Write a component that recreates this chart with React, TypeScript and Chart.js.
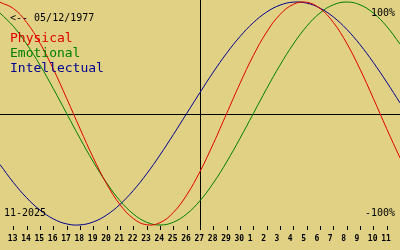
import React, { useEffect, useRef } from "react";
import { Chart, registerables } from "chart.js";

Chart.register(...registerables);

// Day index 0 = 12 Nov 2025 ... 30 = 12 Dec 2025; today = index 15 (27 Nov)
const dayIndex = [
  0, 1, 2, 3, 4, 5, 6, 7, 8, 9, 10, 11, 12, 13, 14, 15, 16, 17, 18, 19, 20, 21, 22, 23, 24, 25, 26, 27, 28, 29, 30,
];
const physical = [
  0.998, 0.942, 0.817, 0.631, 0.398, 0.136, -0.136, -0.398, -0.631, -0.817, -0.942, -0.998, -0.979, -0.888, -0.731,
  -0.52, -0.27, 0, 0.27, 0.52, 0.731, 0.888, 0.979, 0.998, 0.942, 0.817, 0.631, 0.398, 0.136, -0.136, -0.398,
];
const emotional = [
  0.901, 0.782, 0.623, 0.434, 0.223, 0, -0.223, -0.434, -0.623, -0.782, -0.901, -0.975, -1, -0.975, -0.901, -0.782,
  -0.623, -0.434, -0.223, 0, 0.223, 0.434, 0.623, 0.782, 0.901, 0.975, 1, 0.975, 0.901, 0.782, 0.623,
];
const intellectual = [
  -0.458, -0.618, -0.756, -0.866, -0.945, -0.99, -0.999, -0.972, -0.91, -0.815, -0.69, -0.541, -0.372, -0.189, 0,
  0.189, 0.372, 0.541, 0.69, 0.815, 0.91, 0.972, 0.999, 0.99, 0.945, 0.866, 0.756, 0.618, 0.458, 0.282, 0.095,
];
const tickIndex = [1, 2, 3, 4, 5, 6, 7, 8, 9, 10, 11, 12, 13, 14, 15, 16, 17, 18, 19, 20, 21, 22, 23, 24, 25, 26, 27, 28, 29];
const tickLabels = [
  "13", "14", "15", "16", "17", "18", "19", "20", "21", "22", "23", "24", "25", "26", "27", "28", "29", "30",
  "1", "2", "3", "4", "5", "6", "7", "8", "9", "10", "11",
];
const todayIndex = 15;
const seriesNames = ["Physical", "Emotional", "Intellectual"];
const seriesColors = ["#e00000", "#008000", "#000090"];
const birthText = "<-- 05/12/1977";
const monthText = "11-2025";
const topText = "100%";
const bottomText = "-100%";

const BG = "#e0d184";
const MONO = "'DejaVu Sans Mono', 'Liberation Mono', monospace";

const bioPlugin = {
  id: "bio",
  beforeDraw(chart: any) {
    const { ctx, width, height } = chart;
    ctx.save();
    ctx.fillStyle = BG;
    ctx.fillRect(0, 0, width, height);
    ctx.restore();
  },
  beforeDatasetsDraw(chart: any) {
    const { ctx, scales } = chart;
    const x = scales.x;
    const y = scales.y;
    ctx.save();
    ctx.strokeStyle = "#000000";
    ctx.lineWidth = 1;
    // zero line
    const y0 = Math.round(y.getPixelForValue(0)) + 0.5;
    ctx.beginPath();
    ctx.moveTo(0, y0);
    ctx.lineTo(chart.width, y0);
    ctx.stroke();
    // today line
    const xt = Math.round(x.getPixelForValue(todayIndex)) + 0.5;
    const yb = y.getPixelForValue(-1) + 3;
    ctx.beginPath();
    ctx.moveTo(xt, 0);
    ctx.lineTo(xt, yb);
    ctx.stroke();
    ctx.restore();
  },
  afterDatasetsDraw(chart: any) {
    const { ctx, scales } = chart;
    const x = scales.x;
    const y = scales.y;
    ctx.save();
    // ticks
    ctx.strokeStyle = "#000000";
    ctx.lineWidth = 1;
    const yTick = y.getPixelForValue(-1) + 1;
    tickIndex.forEach((t, i) => {
      const px = Math.round(x.getPixelForValue(t)) + 0.5;
      ctx.beginPath();
      ctx.moveTo(px, yTick);
      ctx.lineTo(px, yTick + 4);
      ctx.stroke();
      ctx.fillStyle = "#000000";
      ctx.font = `bold 8px ${MONO}`;
      ctx.textAlign = "left";
      ctx.textBaseline = "alphabetic";
      ctx.fillText(tickLabels[i], x.getPixelForValue(t) - 5.5, 241);
    });
    // texts
    ctx.textAlign = "left";
    ctx.textBaseline = "alphabetic";
    ctx.fillStyle = "#000000";
    ctx.font = `10px ${MONO}`;
    ctx.fillText(birthText, 10, 21);
    ctx.fillText(monthText, 4, 216);
    ctx.textAlign = "right";
    ctx.fillText(topText, 395, 16);
    ctx.fillText(bottomText, 395, 216);
    ctx.textAlign = "left";
    ctx.font = `13px ${MONO}`;
    seriesNames.forEach((n, i) => {
      ctx.fillStyle = seriesColors[i];
      ctx.fillText(n, 10, 42 + i * 15);
    });
    ctx.restore();
  },
};

export default function App() {
  const ref = useRef<HTMLCanvasElement | null>(null);
  useEffect(() => {
    if (!ref.current) return;
    const mk = (vals: number[], color: string, label: string) => ({
      label,
      data: dayIndex.map((d, i) => ({ x: d, y: vals[i] })),
      borderColor: color,
      borderWidth: 1,
      pointRadius: 0,
      tension: 0.4,
      fill: false,
    });
    const chart = new Chart(ref.current, {
      type: "line",
      data: {
        datasets: [
          mk(physical, seriesColors[0], seriesNames[0]),
          mk(emotional, seriesColors[1], seriesNames[1]),
          mk(intellectual, seriesColors[2], seriesNames[2]),
        ],
      },
      options: {
        animation: false,
        responsive: false,
        maintainAspectRatio: false,
        devicePixelRatio: 1,
        layout: { padding: 0 },
        plugins: { legend: { display: false }, tooltip: { enabled: false } },
        scales: {
          x: { type: "linear", min: 0, max: 30, display: false },
          y: { type: "linear", min: -1.224, max: 1.018, display: false },
        },
      },
      plugins: [bioPlugin],
    });
    return () => chart.destroy();
  }, []);
  return (
    <div style={{ position: "fixed", left: 0, top: 0, width: 400, height: 250 }}>
      <canvas ref={ref} width={400} height={250} style={{ display: "block", width: 400, height: 250 }} />
    </div>
  );
}
